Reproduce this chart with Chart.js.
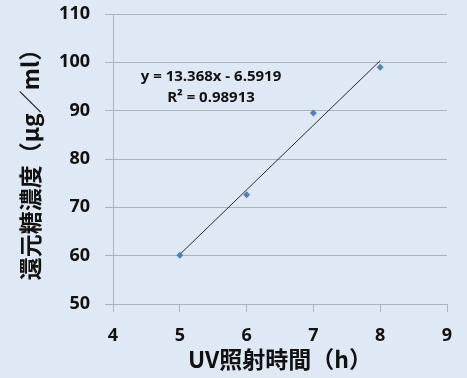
<!DOCTYPE html>
<html>
<head>
<meta charset="utf-8">
<script src="https://cdn.jsdelivr.net/npm/chart.js@4"></script>
<style>
    html, body { margin: 0; padding: 0; background: #dfe9f5; }
    #wrap { width: 467px; height: 378px; }
</style>
</head>
<body>
<div id="wrap"><canvas id="chart" width="467" height="378"></canvas></div>
<script>
// measured values
const hours = [5, 6, 7, 8];
const sugar = [60.1, 72.6, 89.5, 99.0];

// trendline shown on the chart
const slope = 13.368;
const intercept = -6.5919;
const rSquared = '0.98913';
const trendX = [5, 8];

const xRange = [4, 9];
const yRange = [50, 110];

const xTitle = 'UV照射時間（h）';
const yTitle = '還元糖濃度（μg／ml）';

const gridColor = '#abb3bf';
const tickFont = { family: '"Open Sans"', size: 18, weight: '700' };
const titleFont = { family: '"Noto Sans CJK JP"', size: 23, weight: 'bold' };

// equation label drawn inside the plot area
const equationLabel = {
    id: 'equationLabel',
    afterDraw(chart) {
        const { ctx, chartArea } = chart;
        ctx.save();
        ctx.fillStyle = '#111';
        ctx.font = '700 15px "Open Sans"';
        ctx.textAlign = 'center';
        ctx.textBaseline = 'middle';
        const cx = chartArea.left + 98;
        ctx.fillText(`y = ${slope}x - ${Math.abs(intercept)}`, cx, chartArea.top + 63);
        ctx.fillText(`R² = ${rSquared}`, cx, chartArea.top + 84);
        ctx.restore();
    }
};

const ctx = document.getElementById('chart').getContext('2d');
new Chart(ctx, {
    type: 'scatter',
    data: {
        datasets: [{
            label: 'data',
            data: hours.map((h, i) => ({ x: h, y: sugar[i] })),
            pointStyle: 'rectRot',
            pointRadius: 3.5,
            backgroundColor: '#4f81bd',
            borderColor: '#4f81bd',
            borderWidth: 0
        }, {
            label: 'trend',
            type: 'line',
            data: trendX.map(x => ({ x: x, y: slope * x + intercept })),
            borderColor: '#2a2a2a',
            borderWidth: 1,
            pointRadius: 0,
            fill: false
        }]
    },
    options: {
        responsive: false,
        animation: false,
        layout: { padding: { top: 14, right: 20 } },
        plugins: {
            legend: { display: false },
            tooltip: { enabled: false }
        },
        scales: {
            x: {
                type: 'linear',
                min: xRange[0],
                max: xRange[1],
                afterFit: scale => {
                    scale.height = 74;
                    scale.paddingLeft = 0;
                    scale.paddingRight = 0;
                },
                ticks: { stepSize: 1, color: '#111', font: tickFont, padding: 13 },
                grid: { drawOnChartArea: false, drawTicks: true, tickLength: 8, color: gridColor },
                border: { color: gridColor },
                title: { display: true, text: xTitle, color: '#111', font: titleFont, padding: { top: 0, bottom: 5 } }
            },
            y: {
                min: yRange[0],
                max: yRange[1],
                afterFit: scale => {
                    scale.width = 113;
                    scale.paddingTop = 0;
                    scale.paddingBottom = 0;
                },
                ticks: { stepSize: 10, color: '#111', font: tickFont, padding: 15 },
                grid: { color: gridColor, tickLength: 8 },
                border: { color: gridColor },
                title: { display: true, text: yTitle, color: '#111', font: titleFont, padding: { top: 16, bottom: 0 } }
            }
        }
    },
    plugins: [equationLabel]
});
</script>
</body>
</html>
